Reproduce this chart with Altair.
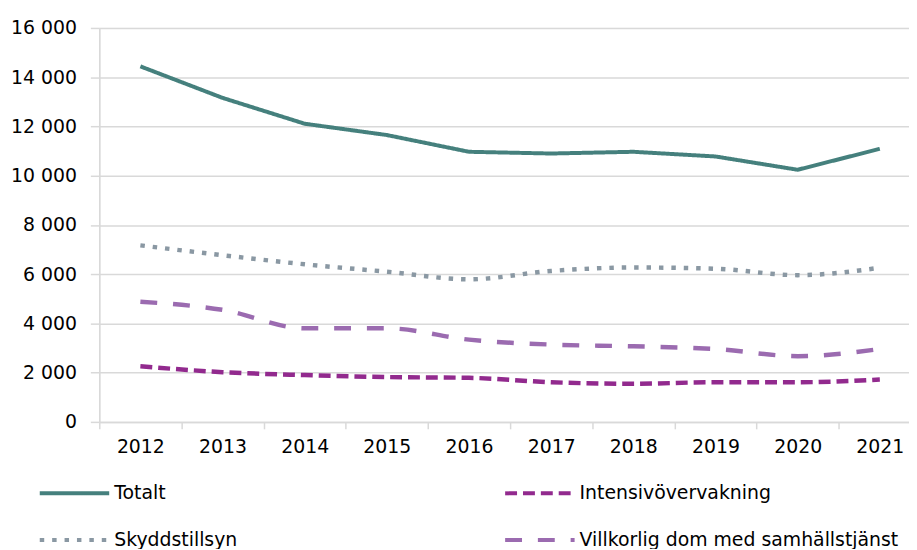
import altair as alt
import pandas as pd

years = ["2012", "2013", "2014", "2015", "2016", "2017", "2018", "2019", "2020", "2021"]
series_names = ["Totalt", "Intensivövervakning", "Skyddstillsyn", "Villkorlig dom med samhällstjänst"]
totalt = [14440, 13160, 12110, 11650, 10970, 10900, 10970, 10780, 10240, 11090]
intensiv = [2260, 2020, 1900, 1820, 1790, 1610, 1550, 1610, 1610, 1720]
skydd = [7170, 6770, 6400, 6100, 5790, 6130, 6270, 6220, 5960, 6260]
villkorlig = [4880, 4550, 3800, 3800, 3340, 3140, 3070, 2960, 2670, 2960]

colors = ["#45807d", "#922a8e", "#8a98a3", "#9b6bb0"]
dashes = [[1, 0], [12, 6], [4.5, 8], [17, 16]]

rows = []
for name, vals in zip(series_names, [totalt, intensiv, skydd, villkorlig]):
    for y, v in zip(years, vals):
        rows.append({"year": y, "series": name, "value": v})
df = pd.DataFrame(rows)

FONT = "DejaVu Sans"
x_enc = alt.X(
    "year:O",
    bandPosition=0.5,
    scale=alt.Scale(type="band", range=[0, 828], paddingInner=0, paddingOuter=0),
    axis=alt.Axis(
        title=None, tickBand="extent", tickSize=7, tickColor="#d9d9d9", tickWidth=1.5,
        domainColor="#d9d9d9", domainWidth=1.5, labelFont=FONT, labelFontSize=19,
        labelColor="#000000", labelPadding=9, labelAngle=0, grid=False,
    ),
)
y_enc = alt.Y(
    "value:Q",
    scale=alt.Scale(domain=[0, 16000], nice=False),
    axis=alt.Axis(
        title=None, values=list(range(0, 16001, 2000)), tickSize=9, tickColor="#d9d9d9",
        tickWidth=1.5, domainColor="#d9d9d9", domainWidth=1.5, gridColor="#d9d9d9",
        gridWidth=1.5, labelFont=FONT, labelFontSize=19, labelColor="#000000",
        labelPadding=14, labelExpr="replace(format(datum.value, ','), /,/g, ' ')",
    ),
)
color_enc = alt.Color(
    "series:N",
    scale=alt.Scale(domain=series_names, range=colors),
    legend=alt.Legend(
        title=None, orient="none", legendX=-62, legendY=432, columns=2, direction="horizontal",
        symbolType="stroke", symbolSize=4900, symbolStrokeWidth=4,
        labelFont=FONT, labelFontSize=19, labelColor="#000000", labelOffset=3, labelLimit=500,
        columnPadding=261, rowPadding=-22, gridAlign="each",
    ),
)
dash_enc = alt.StrokeDash(
    "series:N", scale=alt.Scale(domain=series_names, range=dashes), legend=None
)

base = alt.Chart(df).encode(x=x_enc, y=y_enc, color=color_enc, strokeDash=dash_enc)
tot = base.transform_filter(alt.datum.series == "Totalt").mark_line(strokeWidth=4)
rest = base.transform_filter(alt.datum.series != "Totalt").mark_line(strokeWidth=4.5, interpolate="monotone")

chart = (
    alt.layer(tot, rest)
    .properties(
        width=816, height=397,
        padding={"left": 92, "top": 18, "right": 0, "bottom": 126},
        autosize=alt.AutoSizeParams(type="none"),
    )
    .configure_view(stroke=None)
    .configure(background="white")
)
chart.save("out.html", embed_options={"renderer": "svg", "actions": False})
